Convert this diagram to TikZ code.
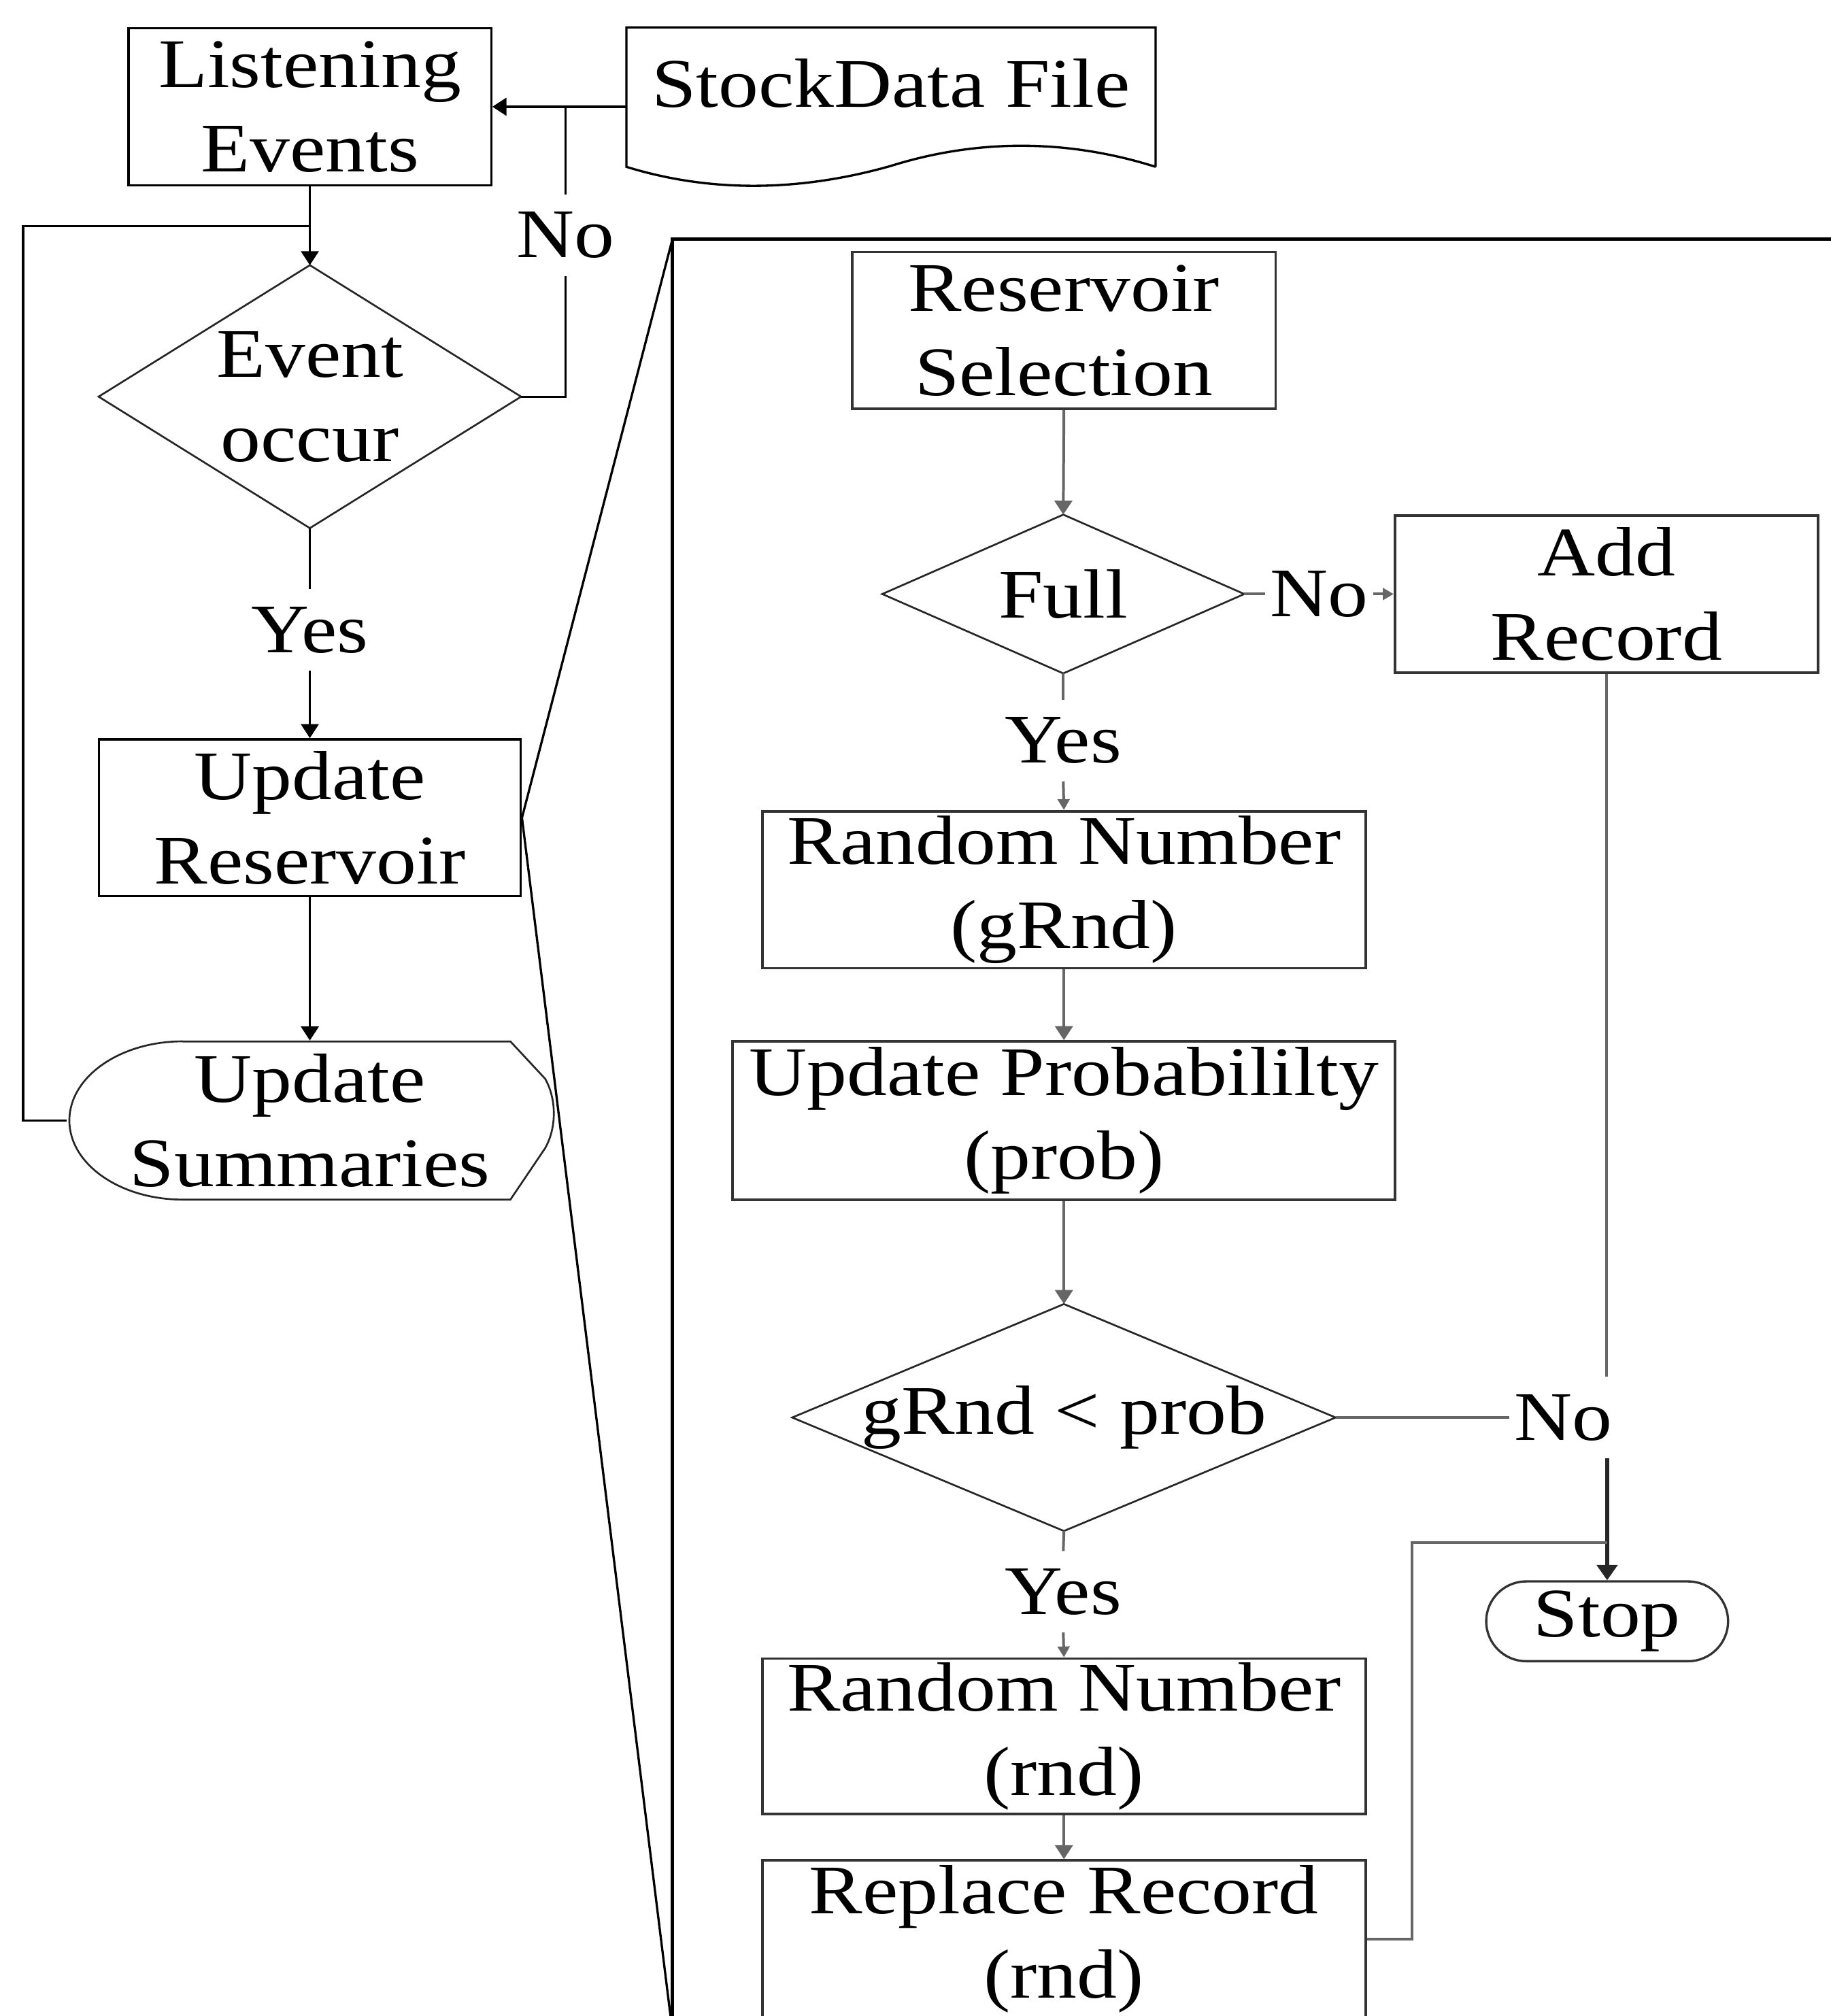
\documentclass[tikz,border=0pt]{standalone}
\usepackage{fontspec}
\setmainfont{Liberation Serif}[FakeStretch=1.15]
\usetikzlibrary{arrows.meta}
\newcommand{\fsz}{\fontsize{15.4pt}{18.6pt}\selectfont}
\begin{document}
\begin{tikzpicture}[x=0.01cm,y=-0.01cm,
  lbox/.style={draw=black, line width=0.5pt, font=\fsz, align=center, inner sep=0pt},
  rbox/.style={draw=black!80, line width=0.55pt, font=\fsz, align=center, inner sep=0pt},
  ghost/.style={font=\fsz, align=center, inner sep=0pt},
  lab/.style={font=\fsz, inner xsep=1pt, inner ysep=3.7pt},
  lline/.style={line width=0.5pt, black},
  dline/.style={line width=0.4pt, black!85},
  rline/.style={line width=0.6pt, black!60},
  arr/.style={-{Triangle[length=3.1pt,width=3.9pt]}},
  sarr/.style={-{Triangle[length=2.4pt,width=2.6pt]}},
  barr/.style={-{Triangle[length=3.4pt,width=4.5pt]}},
]
\fill[white] (0,0) rectangle (1424,1568);
\useasboundingbox (0,0) rectangle (1424,1568);
\clip (0,0) rectangle (1424,1568);

% ---------------- left column ----------------
\node[lbox, minimum width=2.82cm, minimum height=1.22cm] (le) at (241,83) {Listening\\Events};

\node[ghost, minimum width=4.1cm, minimum height=1.07cm] (sd) at (693,75.5) {};
\node[ghost] (sdt) at (693,65) {StockData File};
\draw[lline] (sd.south east) -- (sd.north east) -- (sd.north west) -- (sd.south west)
  .. controls (556,151) and (626,148) .. (693,129)
  .. controls (760,108) and (830,108) .. (sd.south east);

\node[ghost, minimum width=3.27cm, minimum height=2.03cm] (ev) at (241,308.5) {Event\\occur};
\draw[dline] (ev.north) -- (ev.east) -- (ev.south) -- (ev.west) -- cycle;

\node[lbox, minimum width=3.28cm, minimum height=1.22cm] (ur) at (241,636) {Update\\Reservoir};

\node[ghost, minimum width=3.77cm, minimum height=1.23cm] (us) at (241,871.5) {Update\\Summaries};
\draw[dline] (142,810) -- (397,810) -- (424,839)
  .. controls (433,855) and (433,877) .. (424,893) -- (397,933) -- (142,933)
  arc[start angle=270, end angle=90, x radius=0.88cm, y radius=0.615cm];

\node[lab] (no1) at (440,183) {No};
\node[lab] (yes1) at (241,490) {Yes};

\draw[lline,arr] (sd.west |- le.east) -- (le.east);
\draw[lline] (ev.east) -| (no1.south);
\draw[lline] (no1.north) -- (no1.north |- le.east);
\draw[lline,arr] (le.south) -- (ev.north);
\coordinate (lp) at (18,176);
\draw[lline] (us.west) -| (lp) -- (lp -| le.south);
\draw[lline] (ev.south) -- (yes1.north);
\draw[lline,arr] (yes1.south) -- (ur.north);
\draw[lline,arr] (ur.south) -- (us.north);

% ---------------- zoom frame ----------------
\coordinate (bbtl) at (523,186);
\coordinate (bbbl) at (523,1580);
\draw[line width=0.85pt] (1500,186) -- (bbtl) -- (bbbl);
\draw[line width=0.5pt] (ur.east) -- (bbtl);
\draw[line width=0.5pt] (ur.east) -- (bbbl);

% ---------------- right column ----------------
\node[rbox, minimum width=3.29cm, minimum height=1.22cm] (rs) at (827.5,257) {Reservoir\\Selection};

\node[ghost, minimum width=2.8cm, minimum height=1.22cm] (full) at (827,462) {Full};
\draw[dline] (full.north) -- (full.east) -- (full.south) -- (full.west) -- cycle;

\node[rbox, minimum width=3.29cm, minimum height=1.22cm] (ad) at (1249.5,462) {Add\\Record};

\node[rbox, minimum width=4.69cm, minimum height=1.22cm] (rn1) at (827.5,692) {Random Number\\(gRnd)};

\node[rbox, minimum width=5.15cm, minimum height=1.23cm] (up) at (827.5,871.5) {Update Probabililty\\(prob)};

\node[ghost, minimum width=4.21cm, minimum height=1.75cm] (cmp) at (827.5,1102.5) {gRnd < prob};
\draw[dline] (cmp.north) -- (cmp.east) -- (cmp.south) -- (cmp.west) -- cycle;

\node[draw=black!80, line width=0.5pt, font=\fsz, inner sep=0pt, minimum width=1.88cm, minimum height=0.62cm, rounded corners=0.31cm] (stop) at (1250,1261) {Stop};

\node[rbox, minimum width=4.69cm, minimum height=1.21cm] (rn2) at (827.5,1350.5) {Random Number\\(rnd)};

\node[rbox, minimum width=4.69cm, minimum height=1.22cm] (rr) at (827.5,1508) {Replace Record\\(rnd)};

\node[lab] (no2) at (1026,462) {No};
\node[lab] (yes2) at (827,576) {Yes};
\node[lab] (no3) at (1216,1102.5) {No};
\node[lab] (yes3) at (827,1238) {Yes};

\draw[rline,arr] (rs.south) -- (full.north);
\draw[rline] (full.east) -- (no2.west);
\draw[rline,sarr] (no2.east) -- (ad.west);
\draw[rline] (full.south) -- (yes2.north);
\draw[rline,sarr] (yes2.south) -- (rn1.north);
\draw[rline,arr] (rn1.south) -- (up.north);
\draw[rline,arr] (up.south) -- (cmp.north);
\draw[rline] (cmp.east) -- (cmp.east -| no3.west);
\draw[rline] (ad.south) -- (ad.south |- no3.north);
\draw[line width=0.85pt, black!85, barr] (stop.north |- no3.south) -- (stop.north);
\draw[rline] (cmp.south) -- (yes3.north);
\draw[rline,sarr] (yes3.south) -- (rn2.north);
\draw[rline,arr] (rn2.south) -- (rr.north);
\coordinate (j2) at (1250,1200);
\draw[rline] (rr.east) -- ++(35,0) |- (j2);
\end{tikzpicture}
\end{document}
